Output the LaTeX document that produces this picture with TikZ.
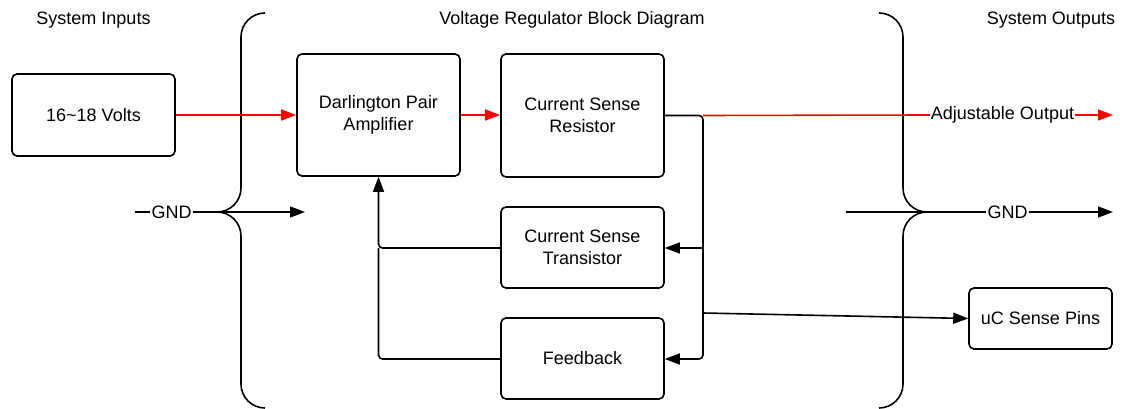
\documentclass[tikz,border=0pt]{standalone}
\usepackage{fontspec}
\setmainfont{Liberation Sans}
\usetikzlibrary{arrows.meta}
\begin{document}
\begin{tikzpicture}[x=1pt,y=-1pt,
  every node/.style={font=\fontsize{18}{22}\selectfont},
  blk/.style={draw,line width=1.6pt,rounded corners=5pt,minimum width=163pt,align=center,inner sep=0pt},
  conn/.style={line width=1.6pt,black},
  pwr/.style={line width=1.6pt,red},
  tip/.style={-{Triangle[length=15pt,width=11pt]}},
  lbl/.style={inner sep=1pt},
  brace/.style={line width=1.6pt}
]
\useasboundingbox (0,0) rectangle (1128,409);

% titles
\node (tin) at (93.5,20) {System Inputs};
\node (tmid) at (572,20) {Voltage Regulator Block Diagram};
\node (tout) at (1051,20) {System Outputs};

% blocks
\node[blk,minimum height=82pt] (volts) at (93.5,115) {16\textasciitilde18 Volts};
\node[blk,minimum height=122pt] (darl) at (378.5,115) {Darlington Pair\\Amplifier};
\node[blk,minimum height=123pt] (res) at (582.5,115.5) {Current Sense\\Resistor};
\node[blk,minimum height=81pt] (trans) at (582.5,247.5) {Current Sense\\Transistor};
\node[blk,minimum height=81pt] (fb) at (582.5,358.5) {Feedback};
\node[blk,minimum width=143pt,minimum height=61pt] (uc) at (1040.5,318.5) {uC Sense Pins};

% braces
\draw[brace] (265,13) to[out=180,in=90] (241,37) -- (241,188)
  to[out=-90,in=0] (217,212) to[out=0,in=90] (241,236) -- (241,384)
  to[out=-90,in=180] (265,408);
\draw[brace] (879,13) to[out=0,in=90] (903,37) -- (903,188)
  to[out=-90,in=180] (927,212) to[out=180,in=90] (903,236) -- (903,384)
  to[out=-90,in=0] (879,408);

% coordinates
\coordinate (jt) at (703,115.5);
\coordinate (jm) at (703,248);
\coordinate (ju) at (703,313);
\coordinate (jb) at (703,359);
\coordinate (fbl) at (378.5,359);
\coordinate (trl) at (378.5,248);
\coordinate (outend) at (1113,115);

% power path
\draw[pwr,tip] (volts.east) -- (darl.west |- volts.east);
\draw[pwr,tip] (darl.east) -- (res.west |- darl.east);
\node[lbl] (adj) at (1002.5,115) {Adjustable Output};
\draw[pwr] (jt) -- (adj.west);
\draw[pwr,tip] (adj.east) -- (outend);

% sense path
\draw[conn,tip,rounded corners=4pt] (res.east) -- (jt) -- (jb) -- (fb.east |- jb);
\draw[conn,tip] (jm) -- (trans.east |- jm);
\draw[conn,tip] (ju) -- (uc.west);

% feedback to amplifier
\draw[conn,tip,rounded corners=4pt] (trans.west |- trl) -- (trl) -- (darl.south);
\draw[conn,rounded corners=4pt] (fb.west |- fbl) -- (fbl) -- (trl);

% GND left
\coordinate (gl0) at (135,212);
\coordinate (ltip) at (217,212);
\coordinate (lend) at (305,212);
\node[lbl] (gndl) at (171.5,212) {GND};
\draw[conn] (gl0) -- (gndl.west);
\draw[conn] (gndl.east) -- (ltip);
\draw[conn,tip] (ltip) -- (lend);

% GND right
\coordinate (gr0) at (846,212);
\coordinate (rend) at (1113,212);
\node[lbl] (gndr) at (1007.5,212) {GND};
\draw[conn] (gr0) -- (gndr.west);
\draw[conn,tip] (gndr.east) -- (rend);
\end{tikzpicture}
\end{document}
